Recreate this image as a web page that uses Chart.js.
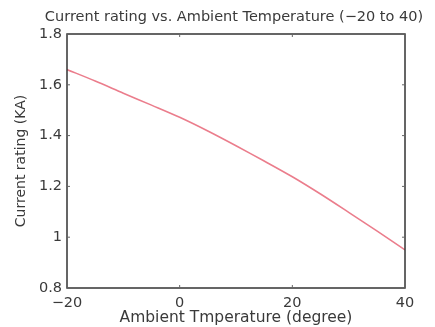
<!DOCTYPE html>
<html>
<head>
<meta charset="utf-8">
<script src="https://cdn.jsdelivr.net/npm/chart.js@4.4.0/dist/chart.umd.min.js"></script>
<style>
html,body{margin:0;padding:0;background:#fff;}
#wrap{width:435px;height:327px;}
</style>
</head>
<body>
<div id="wrap"><canvas id="c" width="435" height="327"></canvas></div>
<script>
const titleText = "Current rating vs. Ambient Temperature (\u221220 to 40)";
const xLabel = "Ambient Tmperature (degree)";
const yLabel = "Current rating (KA)";
const temperatures = [-20, -15, -10, -5, 0, 5, 10, 15, 20, 25, 30, 35, 40];
const currentRating = [1.660, 1.615, 1.567, 1.520, 1.472, 1.418, 1.360, 1.300, 1.238, 1.170, 1.098, 1.025, 0.950];
const xTicks = [-20, 0, 20, 40];
const yTicks = [0.8, 1, 1.2, 1.4, 1.6, 1.8];

const FONT = "'DejaVu Sans', sans-serif";
const TXT = '#3a3a3a';

const frame = {
  id: 'frame',
  afterDraw(chart) {
    const {ctx, chartArea: a, scales} = chart;
    ctx.save();
    ctx.strokeStyle = '#333';
    ctx.lineWidth = 1.5;
    ctx.strokeRect(a.left, a.top, a.right - a.left, a.bottom - a.top);
    ctx.lineWidth = 1;
    ctx.strokeStyle = '#666';
    const tl = 3;
    xTicks.forEach(v => {
      const x = scales.x.getPixelForValue(v);
      ctx.beginPath();
      ctx.moveTo(x, a.bottom); ctx.lineTo(x, a.bottom - tl);
      ctx.moveTo(x, a.top); ctx.lineTo(x, a.top + tl);
      ctx.stroke();
    });
    yTicks.forEach(v => {
      const y = scales.y.getPixelForValue(v);
      ctx.beginPath();
      ctx.moveTo(a.left, y); ctx.lineTo(a.left + tl, y);
      ctx.moveTo(a.right, y); ctx.lineTo(a.right - tl, y);
      ctx.stroke();
    });
    ctx.fillStyle = TXT;
    ctx.font = '14.5px ' + FONT;
    ctx.textAlign = 'center';
    ctx.textBaseline = 'middle';
    ctx.fillText(titleText, (a.left + a.right) / 2 - 2, 17);
    ctx.restore();
  }
};

new Chart(document.getElementById('c'), {
  type: 'line',
  data: {
    datasets: [{
      data: temperatures.map((t, i) => ({x: t, y: currentRating[i]})),
      borderColor: 'rgb(235,125,140)',
      borderWidth: 1.6,
      pointRadius: 0,
      tension: 0.3,
      fill: false
    }]
  },
  options: {
    responsive: false,
    animation: false,
    devicePixelRatio: 1,
    layout: {padding: {top: 34, right: 30, left: 0, bottom: 0}},
    plugins: {legend: {display: false}, tooltip: {enabled: false}, title: {display: false}},
    scales: {
      x: {
        type: 'linear', min: -20, max: 40,
        afterBuildTicks: s => { s.ticks = xTicks.map(v => ({value: v})); },
        afterFit: s => { s.height = 39; },
        grid: {drawOnChartArea: false, drawTicks: false},
        border: {display: false},
        ticks: {padding: 7, color: TXT, font: {family: FONT, size: 14.5}, maxRotation: 0,
                callback: v => (v < 0 ? '\u2212' + Math.abs(v) : String(v))},
        title: {display: true, text: xLabel, color: TXT, font: {family: FONT, size: 15.5}, padding: {top: 0, bottom: 0}}
      },
      y: {
        type: 'linear', min: 0.8, max: 1.8,
        afterBuildTicks: s => { s.ticks = yTicks.map(v => ({value: v})); },
        afterFit: s => { s.width = 67; },
        grid: {drawOnChartArea: false, drawTicks: false},
        border: {display: false},
        ticks: {padding: 5, color: TXT, font: {family: FONT, size: 14.5},
                callback: v => String(Math.round(v * 10) / 10)},
        title: {display: true, text: yLabel, color: TXT, font: {family: FONT, size: 14}, padding: {top: 13, bottom: 0}}
      }
    }
  },
  plugins: [frame]
});
</script>
</body>
</html>
